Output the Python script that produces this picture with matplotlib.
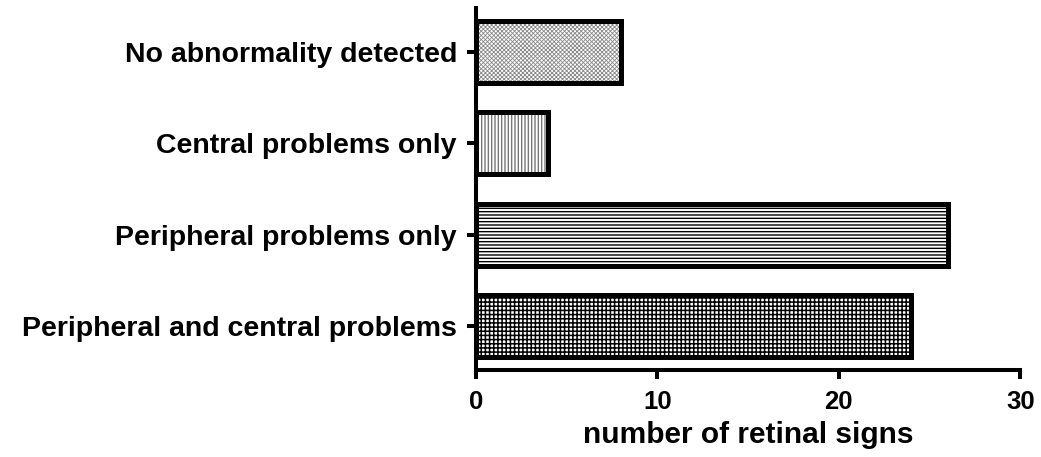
#Retinal signs by category, horizontal hatched bars

import numpy as np
import matplotlib
matplotlib.use("Agg")
import matplotlib.pyplot as plt

plt.rcParams['font.family'] = ['Liberation Sans', 'DejaVu Sans']
plt.rcParams['font.weight'] = 'bold'

cats = ["Peripheral and central problems", "Peripheral problems only",
        "Central problems only", "No abnormality detected"]
vals = [24, 26, 4, 8]
xTicks = [0, 10, 20, 30]
xLab = "number of retinal signs"

#fill style per bar (bottom to top): hatch, hatch colour, hatch line width
hatches = ['++++', '-----', '|||||', 'xxxxxxxx']
hColors = ['black', 'black', '#777777', '#888888']
hWidths = [1.1, 1.0, 1.0, 0.6]

fig = plt.figure(figsize=(10.41, 4.57), dpi=100)
ax = fig.add_axes([0.457, 0.19, 0.523, 0.7925])

yPos = np.arange(len(cats))
bH = 0.68
for i in range(len(cats)):
    plt.rcParams['hatch.linewidth'] = hWidths[i]
    ax.barh(yPos[i], vals[i], height=bH, color='white', edgecolor=hColors[i],
            hatch=hatches[i], linewidth=0, zorder=2)
ax.barh(yPos, vals, height=bH, color='none', edgecolor='black', linewidth=3.6, zorder=3)

ax.set_xlim(0, 30)
ax.set_ylim(-0.48, 3.48)
ax.set_xticks(xTicks)
ax.set_yticks(yPos)
ax.set_yticklabels(cats)

for s in ['top', 'right']:
    ax.spines[s].set_visible(False)
for s in ['left', 'bottom']:
    ax.spines[s].set_linewidth(2.9)
ax.tick_params(axis='both', width=2.9, length=6.5)
ax.tick_params(axis='y', pad=7, labelsize=20.5)
ax.tick_params(axis='x', pad=8, labelsize=18.5)
for lb in ax.get_xticklabels() + ax.get_yticklabels():
    lb.set_fontweight('bold')

ax.set_xlabel(xLab, fontsize=21.5, fontweight='bold', labelpad=5)

fig.savefig("out.png", dpi=100)
